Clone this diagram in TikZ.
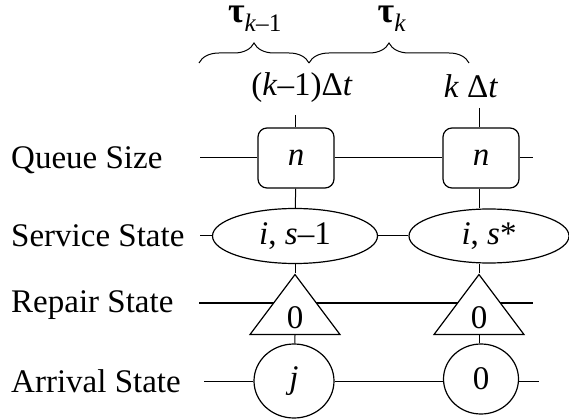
\documentclass[tikz,border=0pt]{standalone}
\usepackage{fontspec}
\setmainfont{Liberation Serif}
\usetikzlibrary{shapes.geometric,decorations.pathreplacing}

\begin{document}
\begin{tikzpicture}[x=1pt,y=-1pt,
  font=\fontsize{33}{39}\selectfont,
  qbox/.style={draw,line width=1.2pt,rounded corners=9pt,minimum width=76pt,
               minimum height=60pt,inner sep=0pt},
  sell/.style={draw,line width=1.2pt,ellipse,inner sep=0pt},
  rtri/.style={draw,line width=1.2pt,fill=white,isosceles triangle,
               shape border rotate=90,isosceles triangle stretches,
               minimum width=90pt,minimum height=60pt,inner sep=0pt},
  lbl/.style={anchor=base west,inner sep=0pt},
  tlbl/.style={anchor=base,inner sep=0pt,font=\fontsize{36}{40}\selectfont},
  ln/.style={line width=1pt},
  brc/.style={decorate,decoration={brace,amplitude=20pt},line width=1pt}
]
\useasboundingbox (0,0) rectangle (569,419);
% free ends of the rows
\coordinate (v1) at (295,115);
\coordinate (v2) at (479,108);
\coordinate (ql) at (200,158);
\coordinate (qr) at (533,158);
\coordinate (sl) at (200,236);
\coordinate (rl) at (199,303);
\coordinate (rr) at (533,303);
\coordinate (al) at (204,381);
\coordinate (ar) at (539,381);
\draw[line width=2.2pt] (rl) -- (rr);
% time axis
\draw[brc] (199,63) -- (309,63);
\draw[brc] (309,63) -- (469,63);
\node[tlbl] (tau1) at (255,23) {\textbf{τ}\textsubscript{\textit{k}–1}};
\node[tlbl] (tau2) at (392,23) {\textbf{τ}\textsubscript{\textit{k}}};
\node[anchor=base,inner sep=0pt] (t1) at (302,96) {(\textit{k}–1)Δ\textit{t}};
\node[anchor=base,inner sep=0pt] (t2) at (471,98) {\textit{k} Δ\textit{t}};
% row labels
\node[lbl] (lq) at (11,169) {Queue Size};
\node[lbl] (ls) at (11,247) {Service State};
\node[lbl] (lr) at (11,312) {Repair State};
\node[lbl] (la) at (11,392) {Arrival State};
% slice k-1
\node[qbox] (q1) at (296,158) {\textit{n}};
\node[sell,minimum width=165pt,minimum height=55pt] (s1) at (295,236) {\textit{i}, \textit{s}–1};
\node[rtri,anchor=apex] (r1) at (295,273) {};
\node (z1) at (295,318) {0};
\node[sell,minimum width=80pt,minimum height=74pt] (a1) at (294,381) {\textit{j}};
% slice k
\node[qbox] (q2) at (481,158) {\textit{n}};
\node[sell,minimum width=160pt,minimum height=54pt] (s2) at (489,236) {\textit{i}, \textit{s}*};
\node[rtri,anchor=apex] (r2) at (479,273) {};
\node (z2) at (479,318) {0};
\node[sell,minimum width=75pt,minimum height=70pt] (a2) at (481,379) {0};
% connectors
\draw[ln] (v1) -- (q1.north -| v1);
\draw[ln] (q1) -- (s1);
\draw[ln] (s1) -- (r1.apex);
\draw[ln] (r1.lower side) -- (a1);
\draw[ln] (v2) -- (q2.north -| v2);
\draw[ln] (q2.south -| v2) -- (v2 |- s2.north);
\draw[ln] (v2 |- s2.south) -- (r2.apex);
\draw[ln] (r2.lower side) -- (r2.lower side |- a2.north);
\draw[ln] (ql) -- (q1);
\draw[ln] (q1) -- (q2);
\draw[ln] (q2) -- (qr);
\draw[ln] (sl) -- (s1);
\draw[ln] (s1) -- (s2);
\draw[ln] (al) -- (a1);
\draw[ln] (a1) -- (a1 -| a2.west);
\draw[ln] (a2.east |- ar) -- (ar);
\end{tikzpicture}
\end{document}
